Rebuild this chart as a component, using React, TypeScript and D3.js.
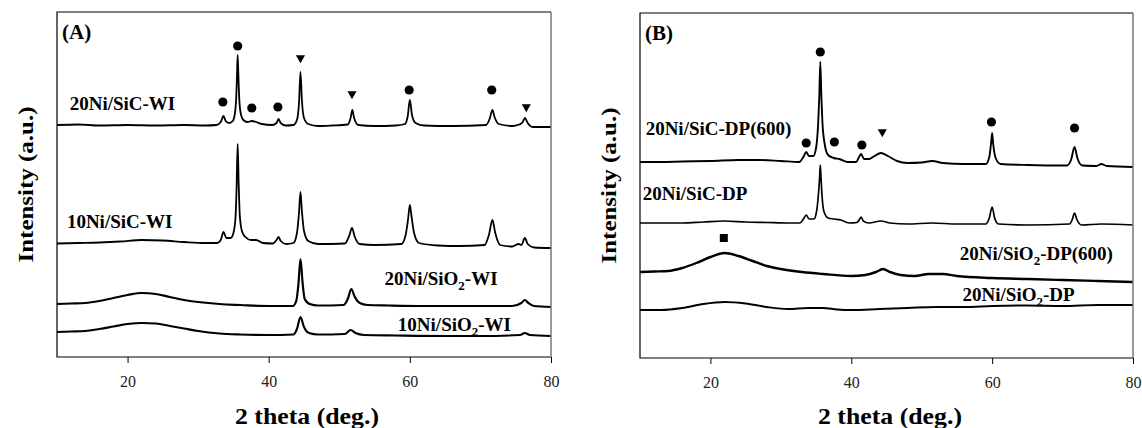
import React, { useRef, useEffect } from 'react';
import * as d3 from 'd3';

const W = 1142;
const H = 428;
const xTicks = [20, 40, 60, 80];

// ---- panel (A): wet impregnation, [2theta, intensity a.u.] (patterns stacked)
const ni20SicWI = [
    [10, 232], [13, 232.5], [16, 231.5], [20, 232], [24, 231.5], [28, 232], [31, 231.5], [32.6, 232],
    [33.2, 235], [33.6, 241], [33.9, 236], [34.4, 234], [34.9, 236], [35.2, 243], [35.4, 260], [35.5, 280],
    [35.6, 302], [35.7, 282], [35.8, 262], [36.0, 245], [36.4, 237], [37, 235], [37.6, 236], [38.2, 235],
    [39, 233], [40.5, 232], [41.1, 234], [41.4, 238], [41.7, 234], [42.4, 231.5], [43.5, 232], [44.0, 237],
    [44.3, 255], [44.5, 285], [44.7, 257], [45.0, 239], [45.6, 233], [47, 231], [49, 231.5], [51.2, 232.5],
    [51.6, 239], [51.85, 247], [52.1, 239], [52.7, 232], [55, 231], [58, 231.5], [59.3, 233], [59.7, 241],
    [60.0, 257], [60.3, 242], [60.8, 234], [62, 231.5], [66, 231], [70.8, 232], [71.3, 238], [71.7, 247],
    [72.0, 240], [72.6, 233], [74.5, 231], [75.5, 232.5], [76.0, 235], [76.3, 239], [76.7, 234], [77.4, 230],
    [80, 230],
];
const ni10SicWI = [
    [10, 113.5], [13, 114], [16, 114.5], [19, 115.5], [22, 117], [25, 116.5], [28, 115], [31, 114], [32.7, 114],
    [33.2, 117], [33.6, 125], [34.0, 119], [34.6, 119], [35.0, 124], [35.3, 140], [35.45, 170], [35.6, 213],
    [35.75, 172], [35.9, 142], [36.2, 126], [36.7, 120], [37.5, 117], [38.2, 117], [39.2, 114], [40.6, 113.5],
    [41.1, 117], [41.4, 120], [41.7, 116], [42.5, 113], [43.5, 114], [44.0, 124], [44.3, 145], [44.5, 165],
    [44.7, 146], [45.0, 126], [45.6, 116], [47, 113], [50.8, 113.5], [51.4, 121], [51.8, 129], [52.2, 120],
    [52.9, 113], [55, 112], [58.8, 113], [59.4, 122], [59.75, 138], [60, 152], [60.25, 140], [60.6, 124],
    [61.3, 114], [64, 111.5], [67, 111], [70.6, 112], [71.2, 122], [71.7, 137], [72.1, 124], [72.8, 112],
    [74.5, 110.5], [75.4, 113], [75.8, 112], [76.3, 119], [76.7, 113], [77.6, 109.5], [80, 109],
];
const ni20Sio2WI = [
    [10, 53], [12, 53.5], [14, 54], [16, 56], [18, 59], [20, 62], [22, 64], [24, 63], [26, 60], [28, 57],
    [30, 55], [33, 53], [36, 52], [40, 51], [43.4, 51], [43.9, 56], [44.2, 72], [44.5, 98], [44.8, 74],
    [45.1, 58], [45.8, 53], [47, 51.5], [50.6, 52], [51.2, 58], [51.7, 68], [52.2, 60], [52.9, 54], [54, 52],
    [57, 51.5], [62, 51], [68, 51], [74.5, 51], [75.8, 54], [76.3, 57], [76.8, 54], [77.6, 51], [80, 50],
];
const ni10Sio2WI = [
    [10, 25], [12, 25.5], [14, 26], [16, 28], [18, 30.5], [20, 33], [22, 34], [24, 33.5], [26, 31], [28, 28.5],
    [30, 26], [33, 23.5], [36, 22.5], [40, 22], [43.5, 22.5], [44.0, 28], [44.5, 40], [45.0, 30], [45.7, 24],
    [47, 22.5], [50.8, 23], [51.6, 27], [52.3, 24], [53.5, 22], [58, 21.5], [65, 21], [70, 21], [75.6, 22],
    [76.3, 24], [77, 22], [80, 21],
];

// ---- panel (B): deposition-precipitation
const ni20SicDP600 = [
    [10, 196], [13, 196], [16, 196.5], [20, 197], [24, 198], [27, 198], [30, 197], [32.6, 196], [33.2, 201],
    [33.6, 206], [34.0, 202], [34.6, 202], [35.0, 210], [35.3, 235], [35.45, 260], [35.6, 296], [35.75, 262],
    [35.9, 236], [36.2, 215], [36.7, 203], [37.5, 200], [38.3, 199], [39.5, 196], [40.7, 196], [41.1, 201],
    [41.4, 204], [41.8, 199], [42.5, 199], [43.3, 202], [44.2, 205], [45.2, 202], [46.5, 197], [48, 195],
    [50, 195.5], [51.5, 197], [53, 195], [56, 194], [59.1, 194], [59.6, 201], [59.85, 215], [60.0, 225],
    [60.15, 214], [60.5, 200], [61.2, 194], [65, 193], [70.6, 192.5], [71.2, 198], [71.7, 211], [72.1, 200],
    [72.8, 192.5], [74.8, 192], [75.5, 194], [76.3, 192], [80, 191],
];
const ni20SicDP = [
    [10, 135], [13, 135], [16, 135], [19, 136], [22, 137], [25, 136], [28, 135.5], [31, 135], [32.7, 135],
    [33.2, 139], [33.6, 143], [34.0, 139], [34.7, 139], [35.1, 148], [35.35, 165], [35.5, 180], [35.6, 193],
    [35.7, 180], [35.85, 162], [36.1, 147], [36.7, 140], [37.6, 139], [38.5, 138], [39.8, 135], [40.8, 135.5],
    [41.2, 139], [41.4, 141], [41.7, 137], [42.5, 135], [44.2, 137], [45.5, 135], [48, 134], [51.5, 135],
    [55, 134], [59.1, 134], [59.6, 140], [60.0, 151], [60.35, 140], [60.9, 134], [65, 133], [71.0, 134],
    [71.4, 139], [71.7, 145], [72.0, 139], [72.7, 133], [75.5, 134], [80, 133],
];
const ni20Sio2DP600 = [
    [10, 86], [12, 86.5], [14, 87], [16, 90], [18, 95], [20, 101], [22, 105], [24, 102], [26, 97], [28, 92],
    [30, 89], [33, 86], [36, 84], [40, 82], [42, 83], [43.5, 86], [44.5, 89], [45.5, 86], [47, 83], [49, 82],
    [51, 84], [53, 84], [55, 82], [60, 80], [65, 79], [70, 78], [75, 77], [80, 76],
];
const ni20Sio2DP = [
    [10, 48], [13, 48], [16, 50], [19, 54], [22, 56], [25, 54.5], [28, 51], [31, 49], [34, 50], [36, 50],
    [38, 48.5], [40, 48], [44, 49], [48, 50], [52, 51], [56, 51], [60, 52], [65, 52.5], [70, 52], [75, 53],
    [80, 53],
];

const namesA = ['20Ni/SiC-WI', '10Ni/SiC-WI', '20Ni/SiO2-WI', '10Ni/SiO2-WI'];
const namesB = ['20Ni/SiC-DP(600)', '20Ni/SiC-DP', '20Ni/SiO2-DP(600)', '20Ni/SiO2-DP'];

// phase markers: [2theta, intensity]
const sicA = [[33.5, 255], [35.6, 311], [37.6, 249], [41.3, 250], [59.9, 267], [71.6, 267]];
const niA = [[44.5, 299], [51.8, 263], [76.5, 250]];
const sicB = [[33.6, 215], [35.6, 306], [37.6, 216], [41.5, 213], [59.9, 236], [71.7, 230]];
const niB = [[44.4, 226]];
const sio2B = [[21.9, 120]];

const FONT = '"Liberation Serif", "Times New Roman", Times, serif';

const panels = [
    {
        tag: '(A)', left: 57, right: 551, top: 12, bottom: 357, titleX: 307,
        series: [ni20SicWI, ni10SicWI, ni20Sio2WI, ni10Sio2WI], widths: [1.8, 1.8, 2.2, 2.1],
        names: namesA, labelAt: [[11.8, 247], [11.4, 129], [56.4, 72], [58.3, 26]],
        sic: sicA, ni: niA, sio2: [],
    },
    {
        tag: '(B)', left: 640, right: 1133, top: 13, bottom: 358, titleX: 890,
        series: [ni20SicDP600, ni20SicDP, ni20Sio2DP600, ni20Sio2DP], widths: [1.9, 1.7, 2.4, 2],
        names: namesB, labelAt: [[10.8, 223], [10.4, 158], [55.4, 98], [55.8, 57]],
        sic: sicB, ni: niB, sio2: sio2B,
    },
];

function addLabel(g, text, x, y) {
    const t = g.append('text')
        .attr('x', x).attr('y', y)
        .attr('font-family', FONT).attr('font-weight', 'bold').attr('font-size', 19)
        .attr('fill', '#000');
    const parts = text.split(/(?<=SiO)2/);
    t.append('tspan').text(parts[0]);
    if (parts.length > 1) {
        t.append('tspan').attr('font-size', 13).attr('dy', 5).text('2');
        t.append('tspan').attr('dy', -5).text(parts[1]);
    }
}

const App = () => {
    const svgRef = useRef(null);

    useEffect(() => {
        document.body.style.margin = '0';
        const svg = d3.select(svgRef.current);
        svg.selectAll('*').remove();

        panels.forEach((p) => {
            const g = svg.append('g');
            const x = d3.scaleLinear().domain([10, 80]).range([p.left, p.right]);
            const y = d3.scaleLinear().domain([0, 345]).range([p.bottom, p.top]);
            const line = d3.line().x((d) => x(d[0])).y((d) => y(d[1])).curve(d3.curveMonotoneX);

            p.series.forEach((s, i) => {
                g.append('path')
                    .attr('d', line(s))
                    .attr('fill', 'none')
                    .attr('stroke', '#000')
                    .attr('stroke-width', p.widths[i])
                    .attr('stroke-linejoin', 'round');
            });

            // frame
            g.append('path')
                .attr('d', `M${p.right},${p.top}H${p.left}V${p.bottom}H${p.right}`)
                .attr('fill', 'none').attr('stroke', '#000').attr('stroke-width', 1.2);
            g.append('line')
                .attr('x1', p.right).attr('x2', p.right).attr('y1', p.top).attr('y2', p.bottom)
                .attr('stroke', '#777').attr('stroke-width', 1.5);

            // x axis
            const axis = g.append('g')
                .attr('transform', `translate(0,${p.bottom})`)
                .call(d3.axisBottom(x).tickValues(xTicks).tickSize(6).tickSizeOuter(0).tickPadding(13));
            axis.select('.domain').remove();
            axis.selectAll('line').attr('stroke', '#000');
            axis.selectAll('text')
                .attr('font-family', FONT).attr('font-size', 16).attr('fill', '#222');

            // markers
            const sym = (type, size) => d3.symbol().type(type).size(size)();
            p.sic.forEach((d) => {
                g.append('path').attr('d', sym(d3.symbolCircle, 66))
                    .attr('transform', `translate(${x(d[0])},${y(d[1])})`).attr('fill', '#000');
            });
            p.ni.forEach((d) => {
                g.append('path').attr('d', sym(d3.symbolTriangle, 36))
                    .attr('transform', `translate(${x(d[0])},${y(d[1])}) rotate(180)`).attr('fill', '#000');
            });
            p.sio2.forEach((d) => {
                g.append('path').attr('d', sym(d3.symbolSquare, 64))
                    .attr('transform', `translate(${x(d[0])},${y(d[1])})`).attr('fill', '#000');
            });

            // curve names
            p.names.forEach((name, i) => addLabel(g, name, x(p.labelAt[i][0]), y(p.labelAt[i][1])));

            // panel tag
            g.append('text')
                .attr('x', p.left + 5).attr('y', p.top + 27)
                .attr('font-family', FONT).attr('font-weight', 'bold').attr('font-size', 21)
                .text(p.tag);

            // titles
            g.append('text')
                .attr('x', p.titleX).attr('y', 424)
                .attr('text-anchor', 'middle')
                .attr('font-family', FONT).attr('font-weight', 'bold').attr('font-size', 23)
                .attr('textLength', 144).attr('lengthAdjust', 'spacingAndGlyphs')
                .text('2 theta (deg.)');
            g.append('text')
                .attr('transform', `translate(${p.left - 24},${(p.top + p.bottom) / 2}) rotate(-90)`)
                .attr('text-anchor', 'middle')
                .attr('font-family', FONT).attr('font-weight', 'bold').attr('font-size', 22)
                .attr('textLength', 156).attr('lengthAdjust', 'spacingAndGlyphs')
                .text('Intensity (a.u.)');
        });
    }, []);

    return (
        <svg
            ref={svgRef}
            width={W}
            height={H}
            style={{ position: 'absolute', left: 0, top: 0, background: '#fff' }}
        ></svg>
    );
};

export default App;
